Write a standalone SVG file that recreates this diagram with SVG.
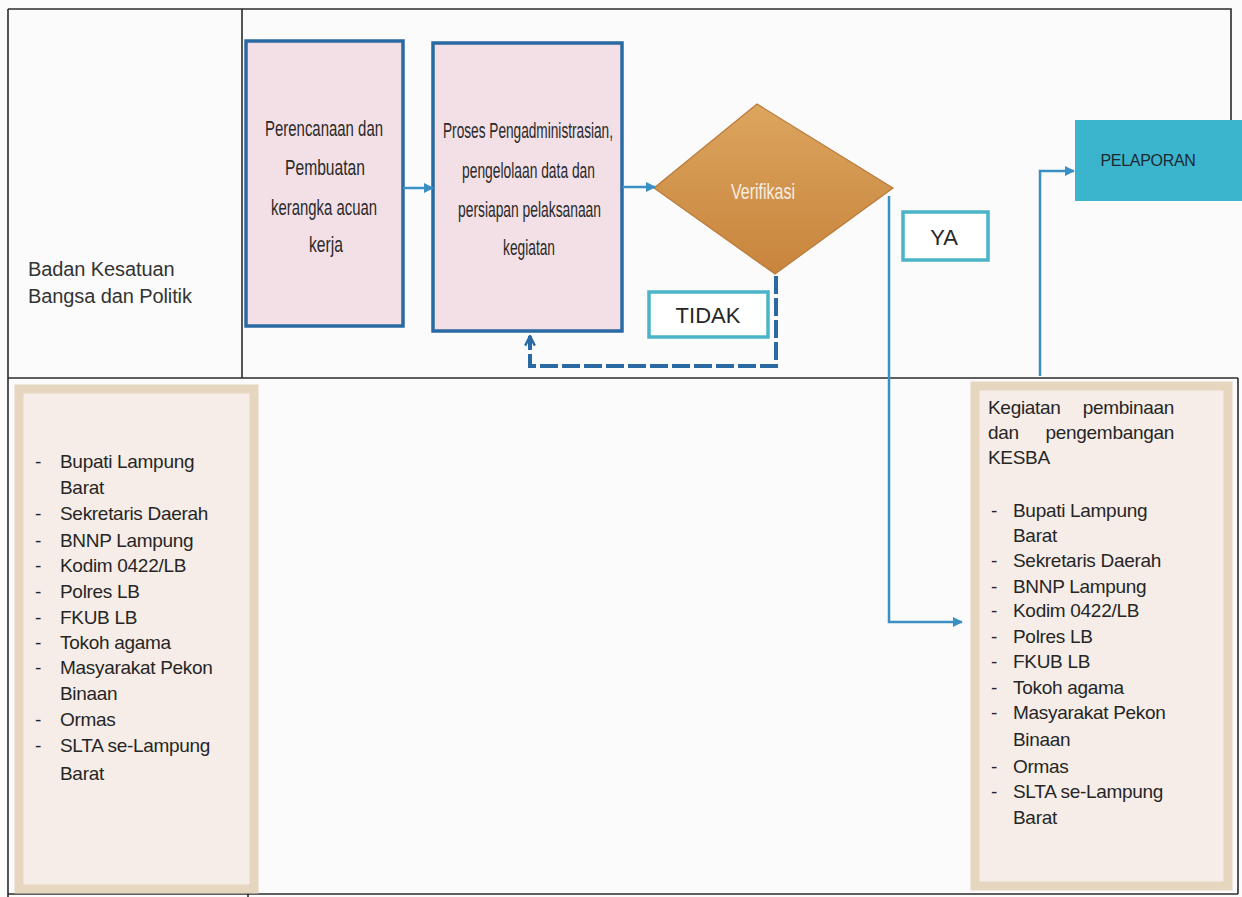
<svg xmlns="http://www.w3.org/2000/svg" width="1242" height="897" viewBox="0 0 1242 897">
<defs>
<style>
.frame{stroke:#2b2b2b;stroke-width:1.6;fill:none}
.proc{fill:#f3e0e7;stroke:#2a6aa3;stroke-width:3.5}
.ptxt{font-family:"Liberation Sans",Arial,sans-serif;font-size:22px;fill:#2a2a2a}
.lbl{fill:#fff;stroke:#4bb4c9;stroke-width:3.5}
.ltxt{font-family:"Liberation Sans",Arial,sans-serif;font-size:22px;fill:#262626;text-anchor:middle}
.list{font-family:"Liberation Sans",Arial,sans-serif;font-size:19px;fill:#262626;letter-spacing:-0.3px}
.side{fill:#f6ede8;stroke:#e7d6bf;stroke-width:9}
.conn{stroke:#3a90c4;stroke-width:2.5;fill:none}
.dash{stroke:#2a6aa3;stroke-width:4;fill:none;stroke-dasharray:18 4}
</style>
<marker id="ah" viewBox="0 0 10 10" refX="9" refY="5" markerWidth="4" markerHeight="4" orient="auto">
<path d="M0,0 L10,5 L0,10 Z" fill="#3a90c4"/>
</marker>
<marker id="ao" viewBox="0 0 10 10" refX="9" refY="5" markerWidth="3" markerHeight="3" orient="auto">
<path d="M1,1 L9,5 L1,9" fill="none" stroke="#2a6aa3" stroke-width="2"/>
</marker>
<linearGradient id="dg" x1="0" y1="0" x2="0" y2="1">
<stop offset="0" stop-color="#dca55e"/>
<stop offset="1" stop-color="#c8843c"/>
</linearGradient>
</defs>
<rect x="0" y="0" width="1242" height="897" fill="#fbfbfb"/>

<g id="table">
<path class="frame" d="M8,9 H1231 V120"/>
<path class="frame" d="M8,9 V897"/>
<path class="frame" d="M242,9 V378"/>
<path class="frame" d="M8,378 H1238"/>
<path class="frame" d="M1238,378 V894"/>
<path class="frame" d="M8,894 H1238"/>
<path class="frame" d="M248,884 V897"/>
<text x="28" y="276" font-family="Liberation Sans,Arial,sans-serif" font-size="20" fill="#333" letter-spacing="-0.1">Badan Kesatuan</text>
<text x="28" y="303" font-family="Liberation Sans,Arial,sans-serif" font-size="20" fill="#333" letter-spacing="-0.1">Bangsa dan Politik</text>
</g>

<g id="node-perencanaan">
<rect class="proc" x="246" y="41" width="157" height="285"/>
<text class="ptxt" x="265" y="136" textLength="118" lengthAdjust="spacingAndGlyphs">Perencanaan dan</text>
<text class="ptxt" x="285" y="175" textLength="80" lengthAdjust="spacingAndGlyphs">Pembuatan</text>
<text class="ptxt" x="271" y="215" textLength="106" lengthAdjust="spacingAndGlyphs">kerangka acuan</text>
<text class="ptxt" x="309" y="252" textLength="34" lengthAdjust="spacingAndGlyphs">kerja</text>
</g>

<g id="node-proses">
<rect class="proc" x="433" y="43" width="189" height="288"/>
<text class="ptxt" x="443" y="138" textLength="170" lengthAdjust="spacingAndGlyphs">Proses Pengadministrasian,</text>
<text class="ptxt" x="462" y="178" textLength="133" lengthAdjust="spacingAndGlyphs">pengelolaan data dan</text>
<text class="ptxt" x="458" y="217" textLength="143" lengthAdjust="spacingAndGlyphs">persiapan pelaksanaan</text>
<text class="ptxt" x="503" y="255" textLength="52" lengthAdjust="spacingAndGlyphs">kegiatan</text>
</g>

<g id="node-verifikasi">
<polygon points="654,188 757,104 893,188 775,274" fill="url(#dg)" stroke="#b97a3a" stroke-width="1.2"/>
<text x="731" y="199" font-family="Liberation Sans,Arial,sans-serif" font-size="22" fill="#f7ece0" textLength="64" lengthAdjust="spacingAndGlyphs">Verifikasi</text>
</g>

<g id="node-tidak">
<rect class="lbl" x="649" y="292" width="119" height="45"/>
<text class="ltxt" x="708" y="323">TIDAK</text>
</g>

<g id="node-ya">
<rect class="lbl" x="903" y="212" width="85" height="48"/>
<text class="ltxt" x="944" y="245">YA</text>
</g>

<g id="node-pelaporan">
<rect x="1075" y="120" width="167" height="81" fill="#3bb4cd"/>
<text x="1148" y="166" font-family="Liberation Sans,Arial,sans-serif" font-size="16" fill="#1e2a30" text-anchor="middle" letter-spacing="-0.3">PELAPORAN</text>
</g>

<g id="node-stakeholders">
<rect class="side" x="19" y="389" width="235" height="500"/>
<g class="list">
<text x="35" y="468">-</text><text x="60" y="468">Bupati Lampung</text>
<text x="60" y="494">Barat</text>
<text x="35" y="520">-</text><text x="60" y="520">Sekretaris Daerah</text>
<text x="35" y="547">-</text><text x="60" y="547">BNNP Lampung</text>
<text x="35" y="572">-</text><text x="60" y="572">Kodim 0422/LB</text>
<text x="35" y="598">-</text><text x="60" y="598">Polres LB</text>
<text x="35" y="624">-</text><text x="60" y="624">FKUB LB</text>
<text x="35" y="649">-</text><text x="60" y="649">Tokoh agama</text>
<text x="35" y="674">-</text><text x="60" y="674">Masyarakat Pekon</text>
<text x="60" y="700">Binaan</text>
<text x="35" y="726">-</text><text x="60" y="726">Ormas</text>
<text x="35" y="752">-</text><text x="60" y="752">SLTA se-Lampung</text>
<text x="60" y="780">Barat</text>
</g>
</g>

<g id="node-kegiatan">
<rect class="side" x="975" y="386" width="253" height="500"/>
<g class="list">
<text x="988" y="414">Kegiatan</text><text x="1174" y="414" text-anchor="end">pembinaan</text>
<text x="988" y="439">dan</text><text x="1174" y="439" text-anchor="end">pengembangan</text>
<text x="988" y="464">KESBA</text>
<text x="991" y="517">-</text><text x="1013" y="517">Bupati Lampung</text>
<text x="1013" y="542">Barat</text>
<text x="991" y="567">-</text><text x="1013" y="567">Sekretaris Daerah</text>
<text x="991" y="593">-</text><text x="1013" y="593">BNNP Lampung</text>
<text x="991" y="617">-</text><text x="1013" y="617">Kodim 0422/LB</text>
<text x="991" y="643">-</text><text x="1013" y="643">Polres LB</text>
<text x="991" y="668">-</text><text x="1013" y="668">FKUB LB</text>
<text x="991" y="694">-</text><text x="1013" y="694">Tokoh agama</text>
<text x="991" y="719">-</text><text x="1013" y="719">Masyarakat Pekon</text>
<text x="1013" y="746">Binaan</text>
<text x="991" y="773">-</text><text x="1013" y="773">Ormas</text>
<text x="991" y="798">-</text><text x="1013" y="798">SLTA se-Lampung</text>
<text x="1013" y="824">Barat</text>
</g>
</g>

<g id="connectors">
<path class="conn" d="M403,188 H433" marker-end="url(#ah)"/>
<path class="conn" d="M622,187 H655" marker-end="url(#ah)"/>
<path class="dash" d="M776,276 V366 H530 V336" marker-end="url(#ao)"/>
<path class="conn" d="M889,196 V622 H962" marker-end="url(#ah)" stroke="#2e77ad"/>
<path class="conn" d="M1040,376 V171 H1074" marker-end="url(#ah)"/>
</g>
</svg>
